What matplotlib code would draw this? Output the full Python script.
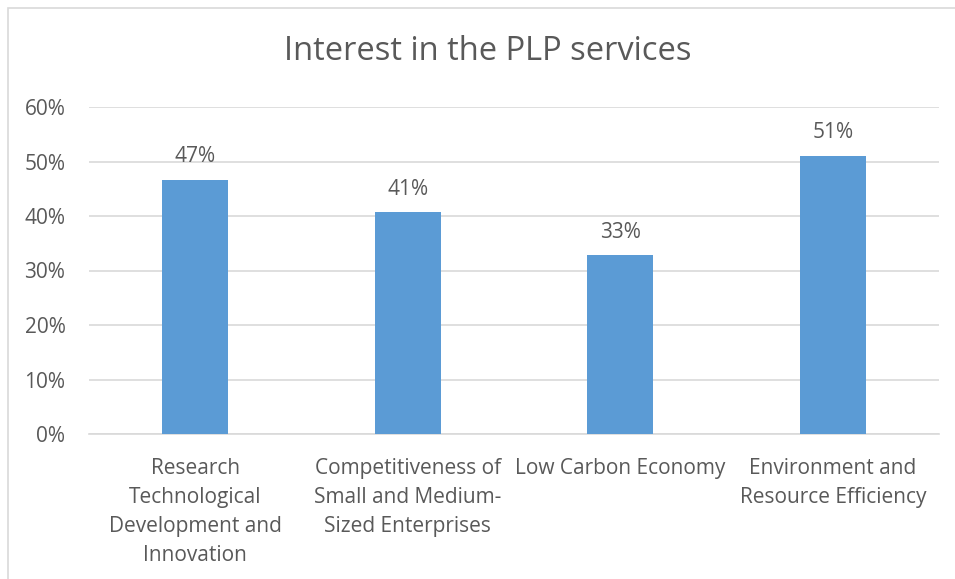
import matplotlib.pyplot as plt
from matplotlib.patches import Rectangle
from matplotlib.ticker import PercentFormatter

categories = [
    "Research\nTechnological\nDevelopment and\nInnovation",
    "Competitiveness of\nSmall and Medium-\nSized Enterprises",
    "Low Carbon Economy",
    "Environment and\nResource Efficiency",
]
interest = [0.466, 0.407, 0.328, 0.511]
y_ticks = [0.0, 0.1, 0.2, 0.3, 0.4, 0.5, 0.6]

BAR_COLOR = "#5B9BD5"
TEXT_COLOR = "#595959"
GRID_COLOR = "#D9D9D9"

plt.rcParams["font.family"] = ["Open Sans", "DejaVu Sans"]

W, H = 955, 579
fig = plt.figure(figsize=(W / 100, H / 100), dpi=100)

# chart area outline (only top and left edges fall inside the image)
fig.patches.append(Rectangle((7.5 / W, -0.1), 1.2, 1.1 - 7.5 / H,
                             transform=fig.transFigure, fill=False,
                             edgecolor=GRID_COLOR, linewidth=1.2))

ax = fig.add_axes([89 / W, 1 - 434 / H, (939 - 89) / W, (434 - 107) / H])

x = range(len(categories))
ax.bar(x, interest, width=0.31, color=BAR_COLOR, zorder=3)
for xi, v in zip(x, interest):
    ax.text(xi, v + 0.023, f"{v:.0%}", ha="center", va="bottom",
            fontsize=15, color=TEXT_COLOR)

ax.set_xlim(-0.5, len(categories) - 0.5)
ax.set_ylim(0, 0.6)
ax.set_yticks(y_ticks)
ax.yaxis.set_major_formatter(PercentFormatter(1.0, decimals=0))
ax.set_xticks(list(x))
ax.set_xticklabels(categories, linespacing=1.5)
ax.tick_params(axis="both", length=0, labelsize=15, colors=TEXT_COLOR)
ax.tick_params(axis="x", pad=17)
ax.tick_params(axis="y", pad=17)
ax.grid(axis="y", color=GRID_COLOR, linewidth=1.2, zorder=0)
for side in ["top", "right", "left"]:
    ax.spines[side].set_visible(False)
ax.spines["bottom"].set_color(GRID_COLOR)
ax.spines["bottom"].set_linewidth(1.2)

fig.text(488 / W, 1 - 52 / H, "Interest in the PLP services", ha="center",
         va="center", fontsize=23.5, color=TEXT_COLOR)

fig.savefig("out.png", dpi=100)
